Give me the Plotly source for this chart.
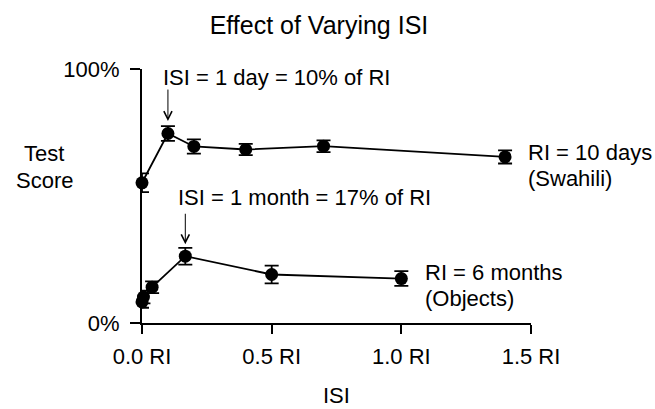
import plotly.graph_objects as go

# Data
swahili_x = [0, 0.1, 0.2, 0.4, 0.7, 1.4]
swahili_y = [55.2, 74.6, 69.5, 68.3, 69.6, 65.4]
swahili_err = [3.7, 2.9, 2.8, 2.2, 2.3, 2.6]

objects_x = [0, 0.0056, 0.039, 0.167, 0.5, 1.0]
objects_y = [8.3, 10.2, 14.1, 26.3, 19.1, 17.5]
objects_err = [2.3, 2.5, 2.3, 3.3, 3.5, 2.9]

x_tickvals = [0, 0.5, 1.0, 1.5]
x_ticktext = ["0.0 RI", "0.5 RI", "1.0 RI", "1.5 RI"]
y_tickvals = [0, 100]
y_ticktext = ["0%", "100%"]

FONT = "Liberation Sans, Arial, Helvetica, sans-serif"
FS = 22

fig = go.Figure()
for xs, ys, es, name in [(swahili_x, swahili_y, swahili_err, "Swahili"),
                         (objects_x, objects_y, objects_err, "Objects")]:
    fig.add_trace(go.Scatter(
        x=xs, y=ys, name=name, mode="lines+markers",
        line=dict(color="black", width=1.8),
        marker=dict(color="black", size=13),
        error_y=dict(type="data", array=es, visible=True, color="black",
                     thickness=1.8, width=7),
        cliponaxis=False, showlegend=False,
    ))

fig.update_layout(
    width=655, height=409,
    margin=dict(l=142, r=124, t=69, b=86),
    plot_bgcolor="white", paper_bgcolor="white",
    font=dict(family=FONT, size=FS, color="black"),
    title=dict(text="Effect of Varying ISI", x=0.487, xanchor="center",
               y=1 - 25 / 409, yanchor="middle", font=dict(size=25)),
    xaxis=dict(range=[0, 1.5], tickvals=x_tickvals, ticktext=x_ticktext,
               showgrid=False, zeroline=False, showline=True, linecolor="black",
               linewidth=2, ticks="outside", ticklen=9, tickwidth=2,
               tickcolor="black", tickfont=dict(size=FS), ticklabelstandoff=4),
    yaxis=dict(range=[0, 100], tickvals=y_tickvals, ticktext=y_ticktext,
               showgrid=False, zeroline=False, showline=True, linecolor="black",
               linewidth=2, ticks="outside", ticklen=10, tickwidth=2,
               tickcolor="black", tickfont=dict(size=FS), ticklabelstandoff=6),
)

def txt(text, x, y, xanchor="left", xref="x", yref="y"):
    fig.add_annotation(text=text, x=x, y=y, xref=xref, yref=yref,
                       xanchor=xanchor, yanchor="middle", showarrow=False,
                       font=dict(size=FS, family=FONT, color="black"))

def arrow(x, y_head, y_tail):
    fig.add_annotation(x=x, y=y_head, ax=x, ay=y_tail, xref="x", yref="y",
                       axref="x", ayref="y", text="", showarrow=True,
                       arrowhead=5, arrowsize=1.6, arrowwidth=1, arrowcolor="black")

txt("ISI = 1 day = 10% of RI", 0.074, 96.8)
arrow(0.1, 79.5, 92.5)
txt("ISI = 1 month = 17% of RI", 0.132, 49.5)
arrow(0.167, 31.0, 43.6)
txt("RI = 10 days", 1.482, 67.3)
txt("(Swahili)", 1.482, 57.0)
txt("RI = 6 months", 1.084, 20.0)
txt("(Objects)", 1.084, 9.7)
txt("Test", -0.251, 66.9, xanchor="center", xref="paper")
txt("Score", -0.251, 56.3, xanchor="center", xref="paper")
txt("ISI", 0.5, -0.285, xanchor="center", xref="paper", yref="paper")

fig.write_html("out.html", config={"displayModeBar": False},
               post_script="document.body.style.margin='0';document.body.style.overflow='hidden';")
